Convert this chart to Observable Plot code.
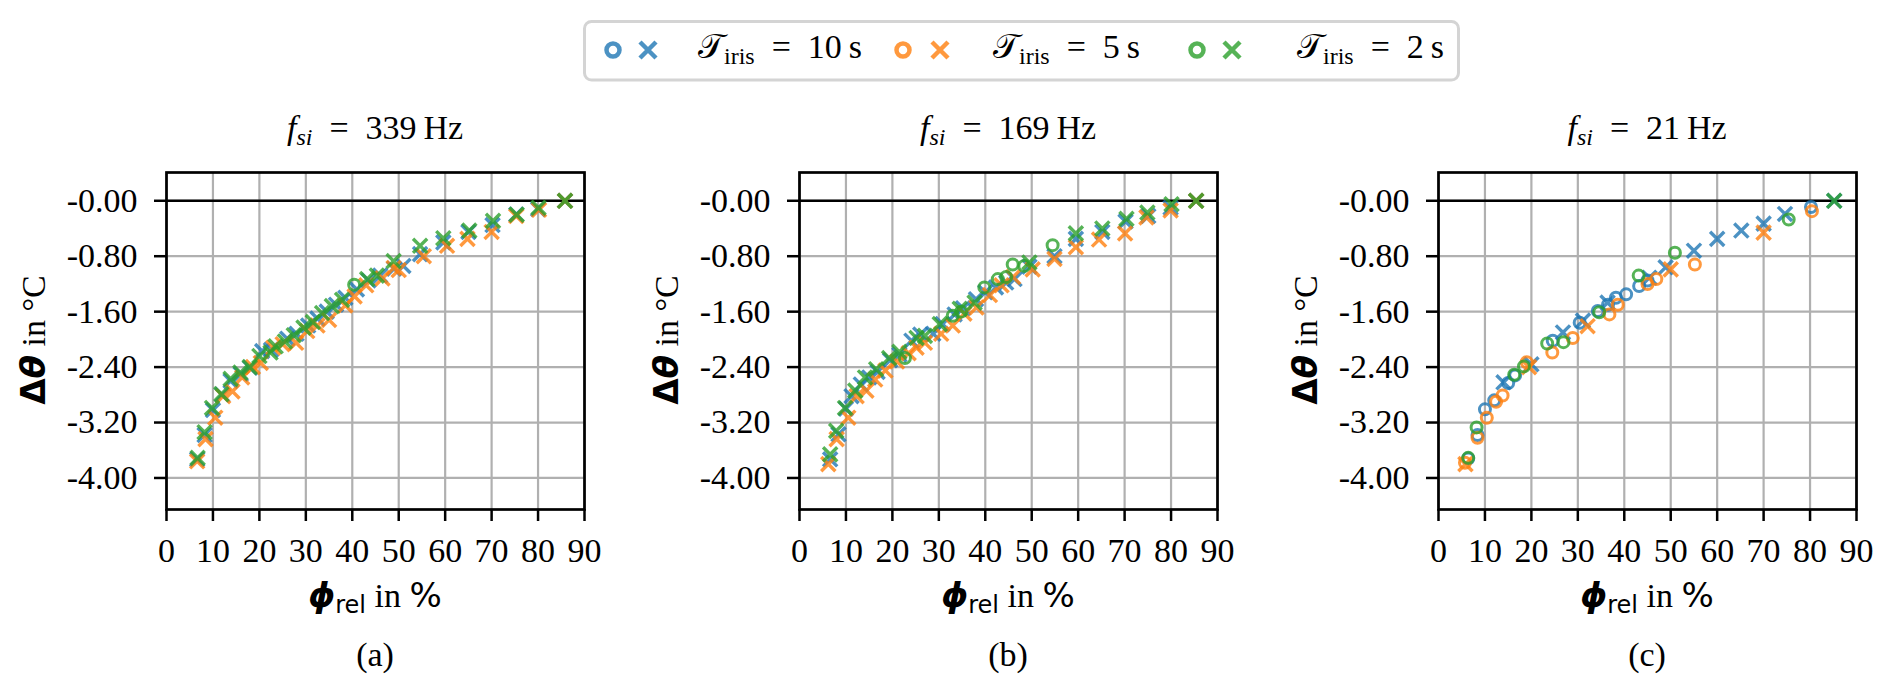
<!DOCTYPE html>
<html><head><meta charset="utf-8">
<script src="https://cdn.jsdelivr.net/npm/d3@7"></script>
<script src="https://cdn.jsdelivr.net/npm/@observablehq/plot@0.6"></script>
<style>
html,body{margin:0;padding:0;background:#fff;}
#fig{position:relative;width:1892px;height:688px;overflow:hidden;background:#fff;}
.panel{position:absolute;top:0;}
.panel svg{overflow:visible;}
#legend{position:absolute;left:0;top:0;}
</style></head><body><div id="fig"></div>
<script>
// ---------- axes / labels ----------
const xTicks = [0, 10, 20, 30, 40, 50, 60, 70, 80, 90];
const yTicks = [-4, -3.2, -2.4, -1.6, -0.8, 0];
const yTickLabels = ["-4.00", "-3.20", "-2.40", "-1.60", "-0.80", "-0.00"];
const seriesNames = ["10", "5", "2"];              // T_iris in s
const seriesColors = ["#1f77b4", "#ff7f0e", "#2ca02c"];
const panelFreqs = ["339", "169", "21"];           // f_si in Hz
const panelCaptions = ["(a)", "(b)", "(c)"];

// ---------- data: [phi_rel in %, delta theta in °C] ----------
// panel (a) f_si = 339 Hz
const a_10_x = [[6.6,-3.73],[8.2,-3.38],[10.0,-3.02],[12.0,-2.80],[13.8,-2.60],[16.0,-2.50],[18.0,-2.41],[20.6,-2.17],[22.5,-2.15],[26.0,-1.99],[28.0,-1.92],[30.5,-1.80],[32.5,-1.70],[34.5,-1.60],[36.5,-1.50],[38.5,-1.40],[41.0,-1.28],[43.5,-1.15],[46.0,-1.08],[49.0,-0.98],[51.0,-0.94],[54.6,-0.77],[59.6,-0.60],[65.0,-0.45],[70.2,-0.35],[75.3,-0.20],[80.0,-0.12],[85.8,0.0]];
const a_10_o = [];
const a_5_x = [[6.6,-3.76],[8.4,-3.44],[10.5,-3.13],[12.2,-2.82],[14.2,-2.75],[16.3,-2.55],[18.6,-2.40],[20.3,-2.34],[23.0,-2.12],[25.0,-2.07],[27.9,-2.05],[30.3,-1.88],[32.5,-1.80],[35.0,-1.72],[38.5,-1.51],[40.5,-1.38],[43.0,-1.22],[46.5,-1.12],[48.9,-0.97],[50.0,-1.00],[55.4,-0.80],[60.4,-0.65],[64.8,-0.55],[70.0,-0.45],[75.3,-0.22],[80.2,-0.13],[85.8,0.0]];
const a_5_o = [];
const a_2_x = [[6.7,-3.71],[8.2,-3.34],[9.8,-2.99],[11.8,-2.79],[13.8,-2.57],[15.9,-2.48],[17.9,-2.40],[20.0,-2.24],[22.4,-2.19],[23.5,-2.10],[25.5,-2.03],[27.4,-1.94],[29.5,-1.83],[31.5,-1.75],[33.5,-1.62],[35.6,-1.52],[37.8,-1.43],[43.2,-1.13],[45.3,-1.08],[48.9,-0.87],[54.6,-0.65],[59.6,-0.54],[65.2,-0.43],[70.3,-0.29],[75.4,-0.20],[80.1,-0.10],[85.8,0.0]];
const a_2_o = [[40.4,-1.21]];
// panel (b) f_si = 169 Hz
const b_10_x = [[6.6,-3.73],[8.4,-3.37],[10.0,-3.00],[11.2,-2.82],[13.2,-2.65],[15.0,-2.55],[16.8,-2.47],[19.5,-2.30],[21.5,-2.22],[24.1,-2.02],[26.0,-1.93],[28.8,-1.92],[30.8,-1.78],[33.4,-1.64],[35.2,-1.55],[38.0,-1.42],[40.0,-1.32],[42.3,-1.25],[44.5,-1.18],[46.3,-1.13],[49.5,-0.95],[54.9,-0.80],[59.5,-0.55],[65.2,-0.45],[70.2,-0.30],[75.1,-0.22],[79.9,-0.10],[85.4,0.0]];
const b_10_o = [];
const b_5_x = [[6.2,-3.80],[8.0,-3.44],[10.5,-3.13],[12.3,-2.82],[14.4,-2.74],[16.3,-2.58],[18.5,-2.45],[21.0,-2.32],[23.5,-2.20],[25.2,-2.12],[27.0,-2.05],[30.5,-1.92],[33.0,-1.80],[35.5,-1.63],[38.1,-1.54],[41.0,-1.36],[43.5,-1.22],[46.0,-1.10],[50.2,-0.99],[54.9,-0.84],[59.5,-0.67],[64.5,-0.56],[70.1,-0.47],[74.7,-0.24],[79.9,-0.14],[85.4,0.0]];
const b_5_o = [];
const b_2_x = [[6.6,-3.66],[7.9,-3.32],[9.8,-2.99],[12.0,-2.74],[14.1,-2.55],[16.5,-2.43],[19.3,-2.27],[21.5,-2.18],[25.2,-1.98],[27.0,-1.95],[30.2,-1.78],[34.5,-1.56],[37.7,-1.47],[49.5,-0.89],[59.5,-0.47],[65.2,-0.40],[70.4,-0.26],[74.9,-0.17],[80.1,-0.05],[85.4,0.0]];
const b_2_o = [[22.7,-2.27],[33.0,-1.66],[34.8,-1.60],[39.8,-1.25],[42.7,-1.13],[44.5,-1.10],[45.9,-0.92],[48.4,-0.94],[54.5,-0.64]];
// panel (c) f_si = 21 Hz
const c_10_x = [[14.0,-2.62],[20.0,-2.36],[26.8,-1.90],[31.1,-1.73],[36.4,-1.47],[45.4,-1.11],[48.9,-0.96],[55.0,-0.72],[60.0,-0.55],[65.2,-0.43],[70.0,-0.33],[74.6,-0.19],[85.2,0.0]];
const c_10_o = [[6.4,-3.72],[8.4,-3.38],[10.0,-3.01],[12.0,-2.88],[15.0,-2.63],[16.5,-2.52],[24.6,-2.02],[30.4,-1.76],[34.3,-1.59],[36.5,-1.50],[38.2,-1.40],[40.4,-1.35],[43.2,-1.23],[45.0,-1.15],[80.2,-0.09]];
const c_5_x = [[5.8,-3.80],[19.5,-2.40],[32.1,-1.81],[50.0,-0.99],[70.0,-0.46]];
const c_5_o = [[5.7,-3.78],[8.4,-3.42],[10.4,-3.13],[12.4,-2.90],[13.8,-2.81],[19.0,-2.33],[24.5,-2.19],[28.9,-1.98],[36.8,-1.64],[38.6,-1.50],[45.0,-1.20],[46.9,-1.13],[55.2,-0.92],[80.4,-0.15]];
const c_2_x = [[85.2,0.0]];
const c_2_o = [[6.4,-3.71],[8.2,-3.27],[16.3,-2.51],[18.4,-2.39],[23.4,-2.06],[26.9,-2.04],[34.6,-1.61],[43.1,-1.08],[50.9,-0.75],[75.4,-0.27]];

const panelData = [
  [[a_10_o, a_10_x], [a_5_o, a_5_x], [a_2_o, a_2_x]],
  [[b_10_o, b_10_x], [b_5_o, b_5_x], [b_2_o, b_2_x]],
  [[c_10_o, c_10_x], [c_5_o, c_5_x], [c_2_o, c_2_x]]
];

// ---------- layout ----------
const frameLefts = [166.3, 799.4, 1438.4];
const mL = 166, mR = 20, mT = 172, mB = 179, frameW = 418;
const serif = "'Liberation Serif', 'DejaVu Serif', serif";
const sans = "'DejaVu Sans', sans-serif";
const fig = document.getElementById("fig");

panelData.forEach((series, p) => {
  const marks = [
    Plot.ruleX(xTicks, {stroke: "#b0b0b0", strokeWidth: 2.2}),
    Plot.ruleY(yTicks, {stroke: "#b0b0b0", strokeWidth: 2.2}),
    Plot.ruleY([0], {stroke: "#000", strokeWidth: 2.7})
  ];
  series.forEach(([circ, cross], s) => {
    const toRows = arr => arr.map(([phi, dt]) => ({phi, dt}));
    marks.push(Plot.dot(toRows(circ), {x: "phi", y: "dt", symbol: "circle", r: 5.5, fill: "none",
      stroke: seriesColors[s], strokeWidth: 3, strokeOpacity: 0.8}));
    marks.push(Plot.dot(toRows(cross), {x: "phi", y: "dt", symbol: "times", r: 6.5,
      stroke: seriesColors[s], strokeWidth: 3.4, strokeOpacity: 0.8}));
  });
  marks.push(Plot.frame({stroke: "#000", strokeWidth: 2.7}));
  marks.push(Plot.axisX({ticks: xTicks, tickSize: 12, tickPadding: 16, label: null, strokeWidth: 2.5, fontSize: 34}));
  marks.push(Plot.axisY({ticks: yTicks, tickSize: 12, tickPadding: 17, label: null, strokeWidth: 2.5, fontSize: 34,
    tickFormat: d => yTickLabels[yTicks.findIndex(t => Math.abs(t - d) < 1e-9)]}));

  const svg = Plot.plot({
    width: mL + frameW + mR, height: 688,
    marginLeft: mL, marginRight: mR, marginTop: mT, marginBottom: mB,
    x: {domain: [0, 90]},
    y: {domain: [-4.455, 0.408]},
    style: {fontFamily: serif, fontSize: "34px", background: "transparent", color: "#000", overflow: "visible"},
    marks
  });

  const div = document.createElement("div");
  div.className = "panel";
  div.style.left = (frameLefts[p] - mL) + "px";
  div.appendChild(svg);
  fig.appendChild(div);

  const cx = mL + frameW / 2;
  const g = d3.select(svg).append("g").attr("font-family", serif).attr("font-size", 34).attr("fill", "#000");
  // title
  const t = g.append("text").attr("x", cx).attr("y", 139).attr("text-anchor", "middle");
  t.append("tspan").attr("font-style", "italic").text("f");
  t.append("tspan").attr("font-style", "italic").attr("font-size", 24).attr("dy", 6).text("si");
  t.append("tspan").attr("dy", -6).text("\u2002=\u2002" + panelFreqs[p] + "\u2009Hz");
  // y label
  const yl = g.append("text").attr("transform", `translate(${mL - 121},340) rotate(-90)`).attr("text-anchor", "middle");
  yl.append("tspan").attr("font-family", sans).attr("font-weight", "bold").text("\u0394");
  yl.append("tspan").attr("font-family", sans).attr("font-weight", "bold").attr("font-style", "italic").text("\u03B8");
  yl.append("tspan").text(" in \u00B0C");
  // x label
  const xl = g.append("text").attr("x", cx).attr("y", 607).attr("text-anchor", "middle");
  xl.append("tspan").attr("font-family", sans).attr("font-weight", "bold").attr("font-style", "italic").text("\u03D5");
  xl.append("tspan").attr("font-family", sans).attr("font-size", 24).attr("dy", 6).text("rel");
  xl.append("tspan").attr("dy", -6).text(" in ");
  xl.append("tspan").attr("font-family", sans).text("%");
  // caption
  g.append("text").attr("x", cx).attr("y", 666).attr("text-anchor", "middle").text(panelCaptions[p]);
});

// ---------- legend ----------
const legendCircleX = [613, 903, 1197];
const legendCrossX = [648, 940, 1232];
const legendTextX = [698, 993, 1297];
const lg = d3.select(fig).append("svg").attr("id", "legend").attr("width", 1892).attr("height", 100);
lg.append("rect").attr("x", 584.5).attr("y", 21.5).attr("width", 874).attr("height", 58.5).attr("rx", 7)
  .attr("fill", "#fff").attr("stroke", "#d4d4d4").attr("stroke-width", 3);
seriesNames.forEach((name, i) => {
  lg.append("circle").attr("cx", legendCircleX[i]).attr("cy", 50).attr("r", 6.5).attr("fill", "none")
    .attr("stroke", seriesColors[i]).attr("stroke-opacity", 0.8).attr("stroke-width", 4.5);
  lg.append("path").attr("transform", `translate(${legendCrossX[i]},50)`).attr("d", "M-8,-8L8,8M-8,8L8,-8")
    .attr("stroke", seriesColors[i]).attr("stroke-opacity", 0.8).attr("stroke-width", 4.5).attr("fill", "none");
  const tx = lg.append("text").attr("x", legendTextX[i]).attr("y", 58).attr("font-family", serif).attr("font-size", 34).attr("fill", "#000");
  tx.append("tspan").text("\u{1D4AF}");
  tx.append("tspan").attr("font-size", 24).attr("dy", 6).text("iris");
  tx.append("tspan").attr("dy", -6).text("\u2002=\u2002" + name + "\u2009s");
});
</script></body></html>
